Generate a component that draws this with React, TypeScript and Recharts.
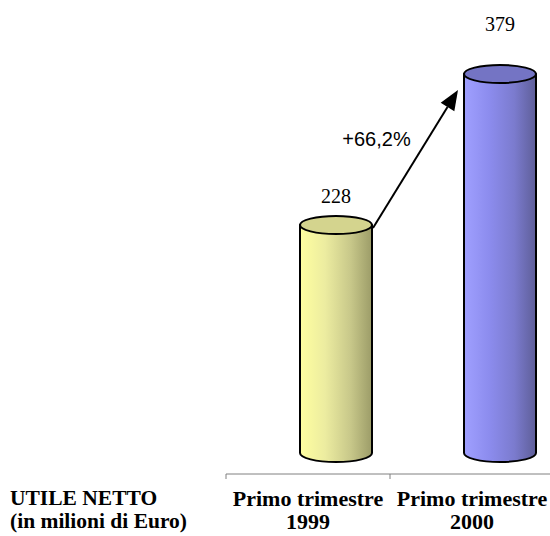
import { BarChart, Bar, XAxis, YAxis, LabelList, ReferenceLine } from 'recharts';

// Utile netto, primo trimestre (milioni di Euro)
const CATEGORIES = ['Primo trimestre 1999', 'Primo trimestre 2000'];
const TICK_LINES = [
  ['Primo trimestre', '1999'],
  ['Primo trimestre', '2000'],
];
const UTILE = [228, 379];
const GROWTH_LABEL = '+66,2%';
const ROW_HEADER = ['UTILE NETTO', '(in milioni di Euro)'];

const data = CATEGORIES.map((name, i) => ({ name, utile: UTILE[i] }));

const W = 550;
const H = 536;
const AXIS_H = 62;
const MARGIN = { top: 24, right: -4, bottom: 0, left: 226 };
const BAND = (W - MARGIN.left - MARGIN.right) / CATEGORIES.length;

// 3D look: cylinders sit a bit behind/right of the category centre
const DEPTH = 28;
const RX = 36;
const RY = 9;
const LABEL_LIFT = [22, 43];

const SERIF = '"Liberation Serif", "Times New Roman", serif';
const SANS = '"Liberation Sans", Arial, sans-serif';

const PALETTE = [
  { id: 'cylYellow', stops: ['#ffffa0', '#ececa0', '#c8c88a', '#9c9c68'], top: '#d4d48e' },
  { id: 'cylBlue', stops: ['#a0a0ff', '#8c8cee', '#7b7bce', '#5e5e98'], top: '#7474c4' },
];

const Cylinder = (props: any) => {
  const { x, y, width, height, index } = props;
  const cx = x + width / 2 + DEPTH;
  const left = cx - RX;
  const right = cx + RX;
  const top = y;
  const bottom = y + height;
  const pal = PALETTE[index % PALETTE.length];
  const body = `M${left},${top} L${left},${bottom} A${RX},${RY} 0 0 0 ${right},${bottom} L${right},${top} Z`;
  return (
    <g>
      <path d={body} fill={`url(#${pal.id})`} stroke="#000" strokeWidth={2} strokeLinejoin="round" />
      <ellipse cx={cx} cy={top} rx={RX} ry={RY} fill={pal.top} stroke="#000" strokeWidth={2} />
    </g>
  );
};

const ValueLabel = (props: any) => {
  const { x, y, width, value, index } = props;
  return (
    <text
      x={x + width / 2 + DEPTH}
      y={y - LABEL_LIFT[index]}
      textAnchor="middle"
      fontFamily={SERIF}
      fontSize={20}
      fill="#000"
    >
      {value}
    </text>
  );
};

const CategoryTick = (props: any) => {
  const { x, y, payload } = props;
  const lines = TICK_LINES[payload.index] ?? [payload.value];
  const edge = x - BAND / 2;
  return (
    <g>
      <line x1={edge} y1={y} x2={edge} y2={y + 5} stroke="#808080" strokeWidth={1} />
      {lines.map((t: string, i: number) => (
        <text
          key={i}
          x={x}
          y={y + 32 + i * 23}
          textAnchor="middle"
          fontFamily={SERIF}
          fontWeight="bold"
          fontSize={22}
          fill="#000"
        >
          {t}
        </text>
      ))}
    </g>
  );
};

// growth arrow from the top of the 1999 cylinder to the side of the 2000 one
const GrowthArrow = (props: any) => {
  const { x1, y1, x2, y2 } = props;
  const sx = x1 + DEPTH + RX + 1;
  const sy = y1 + 3;
  const ex = x2 + DEPTH - RX - 6;
  const ey = y2 + 16;
  const ang = Math.atan2(ey - sy, ex - sx);
  const len = 20;
  const half = 8;
  const bx = ex - len * Math.cos(ang);
  const by = ey - len * Math.sin(ang);
  const px = -Math.sin(ang) * half;
  const py = Math.cos(ang) * half;
  const mx = (sx + ex) / 2;
  const my = (sy + ey) / 2;
  return (
    <g>
      <line x1={sx} y1={sy} x2={bx} y2={by} stroke="#000" strokeWidth={2} />
      <polygon points={`${ex},${ey} ${bx + px},${by + py} ${bx - px},${by - py}`} fill="#000" />
      <text x={mx - 39} y={my - 13} textAnchor="middle" fontFamily={SANS} fontSize={20} fill="#000">
        {GROWTH_LABEL}
      </text>
    </g>
  );
};

export default function App() {
  return (
    <div style={{ position: 'absolute', left: 0, top: 0, width: W, height: H, background: '#fff' }}>
      <BarChart width={W} height={H} data={data} margin={MARGIN}>
        <defs>
          {PALETTE.map((p) => (
            <linearGradient key={p.id} id={p.id} x1="0" y1="0" x2="1" y2="0">
              <stop offset="0%" stopColor={p.stops[0]} />
              <stop offset="35%" stopColor={p.stops[1]} />
              <stop offset="70%" stopColor={p.stops[2]} />
              <stop offset="100%" stopColor={p.stops[3]} />
            </linearGradient>
          ))}
        </defs>
        <XAxis
          dataKey="name"
          axisLine={{ stroke: '#808080', strokeWidth: 1 }}
          tickLine={false}
          tickSize={0}
          tickMargin={0}
          interval={0}
          tick={<CategoryTick />}
          height={AXIS_H}
        />
        <YAxis hide type="number" domain={[-21, 429]} allowDataOverflow />
        <Bar dataKey="utile" barSize={2 * RX} shape={<Cylinder />} isAnimationActive={false}>
          <LabelList dataKey="utile" content={<ValueLabel />} />
        </Bar>
        <ReferenceLine
          segment={[
            { x: CATEGORIES[0], y: UTILE[0] },
            { x: CATEGORIES[1], y: UTILE[1] },
          ]}
          shape={<GrowthArrow />}
          ifOverflow="visible"
        />
      </BarChart>
      <div
        style={{
          position: 'absolute',
          left: 10,
          top: 487,
          fontFamily: SERIF,
          fontWeight: 'bold',
          fontSize: 21.5,
          lineHeight: '23px',
          color: '#000',
          whiteSpace: 'nowrap',
        }}
      >
        {ROW_HEADER.map((t) => (
          <div key={t}>{t}</div>
        ))}
      </div>
    </div>
  );
}
